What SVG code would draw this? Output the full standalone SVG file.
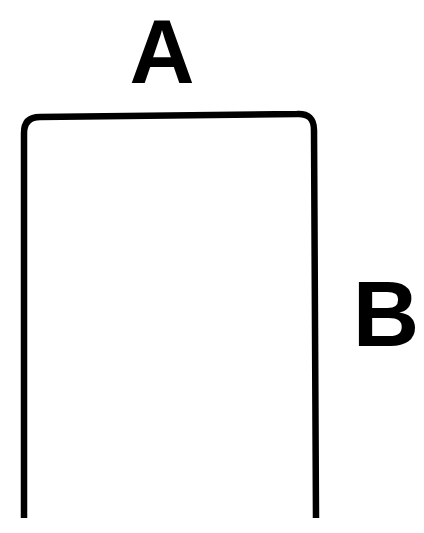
<svg xmlns="http://www.w3.org/2000/svg" width="424" height="533" viewBox="0 0 424 533">
<style>
.lbl{font-family:"Liberation Sans",Arial,sans-serif;font-weight:bold;fill:#000}
.stk{fill:none;stroke:#000;stroke-width:6.5;stroke-linecap:butt;stroke-linejoin:round}
</style>
<rect width="424" height="533" fill="#fff"/>
<g id="connectors">
<path class="stk" d="M24,518 L24,133 Q24,117 40,117 L297,114 Q314,113 314,130 L316,518"/>
</g>
<g id="label-A"><text class="lbl" font-size="90" x="162" y="83" text-anchor="middle">A</text></g>
<g id="label-B"><text class="lbl" font-size="92" x="386" y="346" text-anchor="middle">B</text></g>
</svg>
